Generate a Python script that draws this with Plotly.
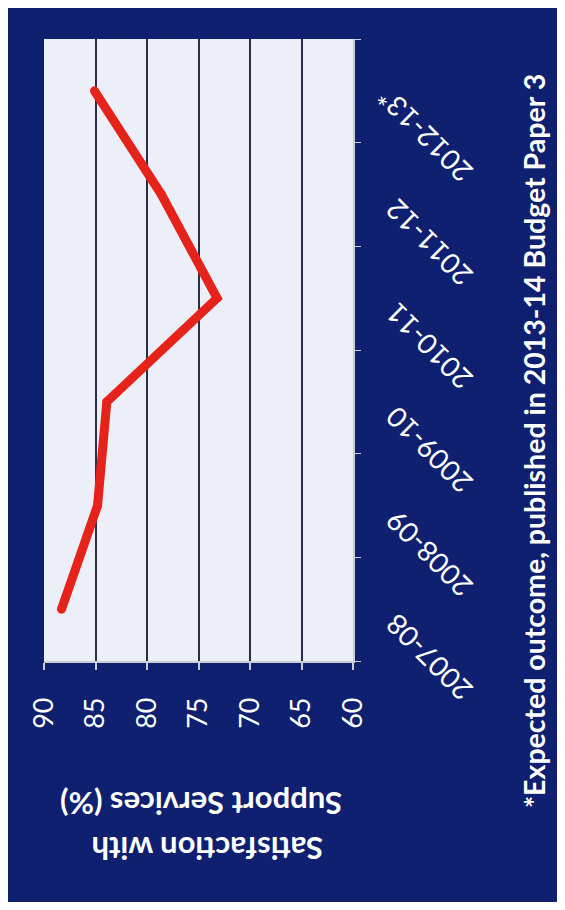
import plotly.graph_objects as go

categories = ["2007-08", "2008-09", "2009-10", "2010-11", "2011-12", "2012-13*"]
satisfaction = [88.3, 84.8, 83.9, 73.2, 78.6, 85.1]
value_ticks = [90, 85, 80, 75, 70, 65, 60]

NAVY = "#102070"
FONT = "Lato"

# figure is placed 8px in from the page corner by the browser's body margin
OFF = 8
W, H = 549, 894
L, T = 36, 31
pw, ph = 309, 622
R, B = W - L - pw, H - T - ph

def px(x_screen):
    return (x_screen - OFF - L) / pw

def py(y_screen):
    return (H - B - (y_screen - OFF)) / ph

fig = go.Figure()
fig.add_trace(go.Scatter(
    x=satisfaction, y=categories, mode="lines+markers",
    line=dict(color="#e5231b", width=9),
    marker=dict(color="#e5231b", size=9),
    showlegend=False, hoverinfo="skip",
))

fig.update_layout(
    width=W, height=H,
    margin=dict(l=L, r=R, t=T, b=B, pad=0),
    paper_bgcolor=NAVY,
    plot_bgcolor="#eceef8",
    font=dict(family=FONT, color="white"),
    xaxis=dict(
        range=[90, 60], tickvals=value_ticks, ticktext=[str(v) for v in value_ticks],
        tickangle=-90, tickfont=dict(size=27, color="white", family=FONT),
        showgrid=True, gridcolor="#2b2d45", gridwidth=2, zeroline=False,
        showline=True, linecolor="#c9cdda", linewidth=1.5,
        ticks="outside", ticklen=7, tickcolor="#c9cdda", tickwidth=1.5,
        ticklabelstandoff=17, automargin=False,
    ),
    yaxis=dict(
        type="category", categoryorder="array", categoryarray=categories,
        range=[-0.5, 5.5], side="right", tickangle=-135,
        tickfont=dict(size=28, color="white", family=FONT),
        showgrid=False, zeroline=False,
        showline=True, linecolor="#c9cdda", linewidth=2,
        ticks="outside", tickson="boundaries", ticklen=6, tickcolor="#c9cdda",
        ticklabelstandoff=104, ticklabelshift=93, automargin=False,
    ),
)

fig.add_annotation(text="<b>Satisfaction with</b>", xref="paper", yref="paper",
                   x=px(207), y=py(849), xanchor="center", yanchor="middle",
                   textangle=180, showarrow=False,
                   font=dict(size=31, color="white", family=FONT))
fig.add_annotation(text="<b>Support Services (%)</b>", xref="paper", yref="paper",
                   x=px(201), y=py(804), xanchor="center", yanchor="middle",
                   textangle=180, showarrow=False,
                   font=dict(size=31, color="white", family=FONT))
fig.add_annotation(text="<b>*Expected outcome, published in 2013-14 Budget Paper 3</b>",
                   xref="paper", yref="paper", x=px(534), y=py(441),
                   xanchor="center", yanchor="middle", textangle=-90, showarrow=False,
                   font=dict(size=28.5, color="white", family=FONT))

fig.write_html("out.html")
